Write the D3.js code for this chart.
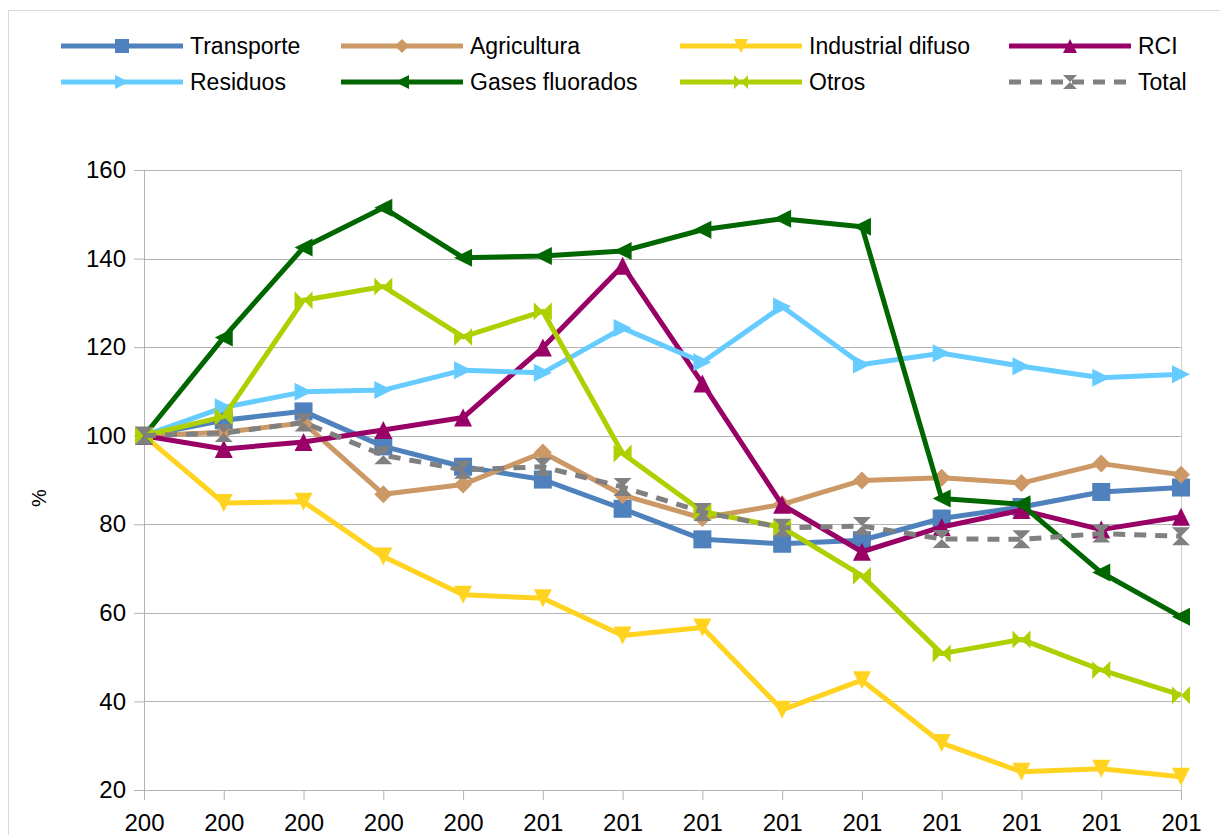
<!DOCTYPE html>
<head>
<meta charset="utf-8">
<title>Emisiones por sector</title>
<script src="https://d3js.org/d3.v7.min.js"></script>
<style>
  body { margin: 0; background: #fff; }
  svg { font-family: "Liberation Sans", Arial, sans-serif; display: block; }
</style>
</head>
<body>
<div id="chart"></div>
<script>
// data (index 2005 = 100)
var years = [2005, 2006, 2007, 2008, 2009, 2010, 2011, 2012, 2013, 2014, 2015, 2016, 2017, 2018];
var tickLabels = ["200", "200", "200", "200", "200", "201", "201", "201", "201", "201", "201", "201", "201", "201"];
var yTicks = [20, 40, 60, 80, 100, 120, 140, 160];

var transporte   = [100, 103.5, 105.5, 97.6, 93.0, 90.1, 83.5, 76.6, 75.6, 76.4, 81.3, 83.9, 87.3, 88.3];
var agricultura  = [100, 100.8, 102.9, 86.8, 89.0, 96.2, 86.6, 81.4, 84.5, 89.9, 90.5, 89.3, 93.7, 91.2];
var industrial   = [100, 84.8, 85.1, 72.7, 64.1, 63.3, 54.9, 56.7, 38.1, 44.8, 30.6, 24.1, 24.8, 23.0];
var rci          = [100, 97.0, 98.6, 101.3, 104.1, 119.9, 138.4, 111.8, 84.4, 73.8, 79.4, 83.2, 78.8, 81.7];
var residuos     = [100, 106.4, 109.9, 110.3, 114.8, 114.2, 124.3, 116.6, 129.2, 116.1, 118.6, 115.7, 113.1, 113.9];
var gases        = [100, 122.2, 142.5, 151.5, 140.2, 140.6, 141.7, 146.5, 149.0, 147.2, 85.8, 84.5, 69.1, 59.1];
var otros        = [100, 104.3, 130.6, 133.7, 122.3, 128.1, 96.0, 82.9, 79.3, 68.4, 50.8, 54.0, 47.1, 41.4];
var total        = [100, 100.6, 103.0, 95.6, 92.3, 93.0, 88.4, 82.8, 79.2, 79.6, 76.7, 76.6, 77.9, 77.3];

var seriesNames  = ["Transporte", "Agricultura", "Industrial difuso", "RCI", "Residuos", "Gases fluorados", "Otros", "Total"];
var seriesValues = [transporte, agricultura, industrial, rci, residuos, gases, otros, total];
var seriesColors = ["#4f81bd", "#cc9966", "#ffd320", "#990066", "#66ccff", "#006600", "#aecf00", "#808080"];
var seriesMarks  = ["square", "diamond", "down", "up", "right", "left", "bowtie", "hourglass"];

var W = 1220, H = 835;
var margin = {top: 170, right: 39, bottom: 45, left: 144};
var width = W - margin.left - margin.right,
    height = H - margin.top - margin.bottom;

var svg = d3.select("#chart").append("svg")
    .attr("width", W)
    .attr("height", H);

// outer frame of the chart object
svg.append("rect")
    .attr("x", 8.5).attr("y", 10.5)
    .attr("width", 1240).attr("height", 860)
    .attr("fill", "none")
    .attr("stroke", "#d9d9d9");

var g = svg.append("g")
    .attr("transform", "translate(" + margin.left + "," + margin.top + ")");

var x = d3.scalePoint().domain(years).range([0, width]);
var y = d3.scaleLinear().domain([20, 160]).range([height, 0]);

// horizontal grid
g.append("g")
  .selectAll("line")
  .data(yTicks)
  .enter().append("line")
    .attr("x1", 0).attr("x2", width)
    .attr("y1", function(d) { return Math.round(y(d)) + 0.5; })
    .attr("y2", function(d) { return Math.round(y(d)) + 0.5; })
    .attr("stroke", "#b3b3b3");

// right border of plot area
g.append("line")
    .attr("x1", width + 0.5).attr("x2", width + 0.5)
    .attr("y1", 0).attr("y2", height)
    .attr("stroke", "#cccccc");

// y axis
var yAxis = g.append("g")
    .call(d3.axisLeft(y).tickValues(yTicks).tickSize(10).tickPadding(8));
yAxis.select(".domain").attr("stroke", "#b3b3b3");
yAxis.selectAll(".tick line").attr("stroke", "#b3b3b3");
yAxis.selectAll(".tick text")
    .attr("font-size", 24)
    .attr("fill", "#000")
    .attr("font-family", "Liberation Sans, Arial, sans-serif");

// x axis
var xAxis = g.append("g")
    .attr("transform", "translate(0," + height + ")")
    .call(d3.axisBottom(x).tickSize(10).tickPadding(14)
      .tickFormat(function(d, i) { return tickLabels[i]; }));
xAxis.select(".domain").attr("stroke", "#b3b3b3");
xAxis.selectAll(".tick line").attr("stroke", "#b3b3b3");
xAxis.selectAll(".tick text")
    .attr("font-size", 24)
    .attr("fill", "#000")
    .attr("font-family", "Liberation Sans, Arial, sans-serif");

// y axis title
svg.append("text")
    .attr("transform", "translate(46,498) rotate(-90)")
    .attr("text-anchor", "middle")
    .attr("font-size", 20)
    .text("%");

// marker shapes
function markerPath(type, h) {
  switch (type) {
    case "square":    return "M" + (-h) + "," + (-h) + "H" + h + "V" + h + "H" + (-h) + "Z";
    case "diamond":   return "M0," + (-h) + "L" + h + ",0L0," + h + "L" + (-h) + ",0Z";
    case "down":      return "M" + (-h) + "," + (-h) + "L" + h + "," + (-h) + "L0," + h + "Z";
    case "up":        return "M" + (-h) + "," + h + "L" + h + "," + h + "L0," + (-h) + "Z";
    case "right":     return "M" + (-h) + "," + (-h) + "L" + h + ",0L" + (-h) + "," + h + "Z";
    case "left":      return "M" + h + "," + (-h) + "L" + (-h) + ",0L" + h + "," + h + "Z";
    case "bowtie":    return "M" + (-h) + "," + (-h) + "L0,0L" + (-h) + "," + h + "Z" +
                             "M" + h + "," + (-h) + "L0,0L" + h + "," + h + "Z";
    case "hourglass": return "M" + (-h) + "," + (-h) + "L" + h + "," + (-h) + "L0,0Z" +
                             "M" + (-h) + "," + h + "L" + h + "," + h + "L0,0Z";
  }
}

var line = d3.line()
    .x(function(d, i) { return x(years[i]); })
    .y(function(d) { return y(d); });

seriesValues.forEach(function(vals, s) {
  var sg = g.append("g");
  sg.append("path")
      .datum(vals)
      .attr("d", line)
      .attr("fill", "none")
      .attr("stroke", seriesColors[s])
      .attr("stroke-width", 5)
      .attr("stroke-linejoin", "round")
      .attr("stroke-dasharray", seriesNames[s] == "Total" ? "12,9" : null);
  sg.selectAll("path.mk")
      .data(vals)
      .enter().append("path")
      .attr("class", "mk")
      .attr("transform", function(d, i) { return "translate(" + x(years[i]) + "," + y(d) + ")"; })
      .attr("d", markerPath(seriesMarks[s], 9))
      .attr("fill", seriesColors[s]);
});

// legend
var legendCols = [61, 341, 680, 1009];
var legendRows = [46, 82];
seriesNames.forEach(function(name, s) {
  var lx = legendCols[s % 4], ly = legendRows[Math.floor(s / 4)];
  var lg = svg.append("g").attr("transform", "translate(" + lx + "," + ly + ")");
  lg.append("line")
      .attr("x1", 0).attr("x2", 122)
      .attr("y1", 0).attr("y2", 0)
      .attr("stroke", seriesColors[s])
      .attr("stroke-width", 5)
      .attr("stroke-dasharray", name == "Total" ? "12,9" : null);
  lg.append("path")
      .attr("transform", "translate(61,0)")
      .attr("d", markerPath(seriesMarks[s], 7))
      .attr("fill", seriesColors[s]);
  lg.append("text")
      .attr("x", 129)
      .attr("y", 0)
      .attr("dy", "0.35em")
      .attr("font-size", 23)
      .text(name);
});
</script>
</body>
